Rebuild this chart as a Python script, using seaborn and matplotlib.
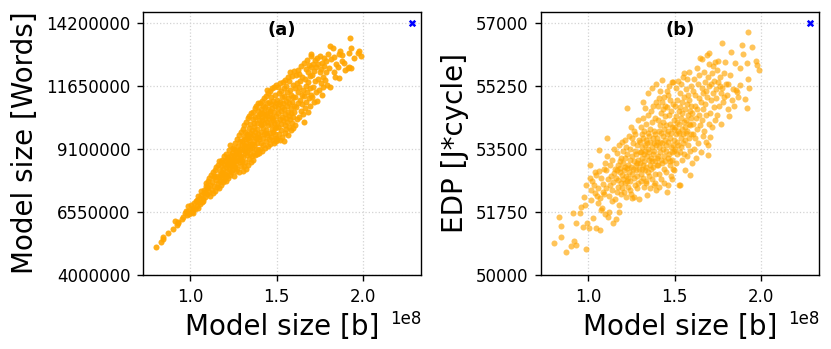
import matplotlib
matplotlib.use("Agg")
import matplotlib.pyplot as plt
import numpy as np
import pandas as pd
import seaborn as sns

# Sampled design points. model_size in units of 1e8 b, words in millions of words,
# edp in J*cycle. The same samples are shown in both panels.
model_size = [
    0.801, 0.832, 0.845, 0.874, 0.843,
    0.903, 0.913, 0.932, 0.951, 0.971, 0.990, 0.986, 0.960, 0.975, 0.995, 0.980, 0.922, 0.929,
    1.006, 1.019, 1.029, 1.038, 1.048, 1.069, 1.015, 1.082, 1.072, 1.009,
    1.063, 1.025, 1.041, 1.055, 1.060, 1.078, 1.085, 1.091, 1.096, 1.033,
    1.046, 1.066, 1.088, 1.099, 1.012, 1.052, 1.075, 1.094,
    1.102, 1.105, 1.108, 1.111, 1.115, 1.118, 1.121, 1.124, 1.127, 1.130,
    1.133, 1.136, 1.139, 1.142, 1.145, 1.148, 1.151, 1.154, 1.157, 1.159,
    1.162, 1.165, 1.168, 1.171, 1.174, 1.176, 1.178, 1.178, 1.181, 1.183,
    1.186, 1.188, 1.190, 1.192, 1.194, 1.196, 1.198, 1.185, 1.170, 1.140,
    1.201, 1.203, 1.205, 1.207, 1.209, 1.211, 1.213, 1.215, 1.217, 1.219,
    1.221, 1.223, 1.226, 1.228, 1.230, 1.232, 1.234, 1.236, 1.238, 1.240,
    1.242, 1.244, 1.246, 1.248, 1.250, 1.252, 1.255, 1.257, 1.259, 1.261,
    1.264, 1.266, 1.268, 1.270, 1.272, 1.274, 1.276, 1.278, 1.280, 1.282,
    1.284, 1.286, 1.288, 1.290, 1.293, 1.295, 1.297, 1.299, 1.212, 1.245,
    1.263, 1.281, 1.227, 1.291, 1.253,
    1.301, 1.302, 1.304, 1.305, 1.307, 1.308, 1.310, 1.311, 1.313, 1.314,
    1.316, 1.317, 1.319, 1.320, 1.322, 1.323, 1.325, 1.326, 1.328, 1.329,
    1.331, 1.332, 1.334, 1.335, 1.337, 1.338, 1.340, 1.341, 1.343, 1.344,
    1.346, 1.347, 1.349, 1.350, 1.352, 1.353, 1.355, 1.356, 1.358, 1.360,
    1.361, 1.363, 1.364, 1.366, 1.367, 1.369, 1.370, 1.372, 1.373, 1.375,
    1.376, 1.378, 1.379, 1.381, 1.382, 1.384, 1.385, 1.387, 1.388, 1.390,
    1.391, 1.393, 1.394, 1.396, 1.397, 1.399, 1.318, 1.345, 1.368, 1.392,
    1.333, 1.386,
    1.401, 1.402, 1.404, 1.405, 1.407, 1.408, 1.410, 1.411, 1.413, 1.414,
    1.416, 1.417, 1.419, 1.420, 1.422, 1.423, 1.425, 1.427, 1.428, 1.430,
    1.431, 1.433, 1.434, 1.436, 1.437, 1.439, 1.440, 1.442, 1.443, 1.445,
    1.446, 1.448, 1.449, 1.451, 1.452, 1.454, 1.456, 1.457, 1.459, 1.460,
    1.462, 1.463, 1.465, 1.466, 1.468, 1.469, 1.471, 1.472, 1.474, 1.475,
    1.477, 1.478, 1.480, 1.481, 1.483, 1.484, 1.486, 1.487, 1.489, 1.490,
    1.492, 1.494, 1.495, 1.497, 1.498, 1.499, 1.412, 1.438, 1.461, 1.488,
    1.418, 1.447, 1.473, 1.496,
    1.501, 1.503, 1.504, 1.506, 1.507, 1.509, 1.510, 1.512, 1.514, 1.515,
    1.517, 1.518, 1.520, 1.521, 1.523, 1.524, 1.526, 1.528, 1.529, 1.531,
    1.532, 1.534, 1.535, 1.537, 1.538, 1.540, 1.542, 1.543, 1.545, 1.546,
    1.548, 1.549, 1.551, 1.552, 1.554, 1.556, 1.557, 1.559, 1.560, 1.562,
    1.563, 1.565, 1.566, 1.568, 1.570, 1.571, 1.573, 1.574, 1.576, 1.577,
    1.579, 1.581, 1.582, 1.584, 1.585, 1.587, 1.588, 1.590, 1.592, 1.593,
    1.595, 1.597, 1.598, 1.599,
    1.602, 1.604, 1.607, 1.609, 1.611, 1.614, 1.616, 1.618, 1.621, 1.623,
    1.625, 1.628, 1.630, 1.632, 1.635, 1.637, 1.639, 1.642, 1.644, 1.647,
    1.649, 1.651, 1.654, 1.656, 1.657, 1.660, 1.662, 1.665, 1.667, 1.670,
    1.672, 1.675, 1.677, 1.679, 1.682, 1.684, 1.686, 1.689, 1.691, 1.693,
    1.695, 1.697, 1.698, 1.699,
    1.701, 1.703, 1.706, 1.709, 1.712, 1.715, 1.718, 1.721, 1.724, 1.727,
    1.730, 1.733, 1.736, 1.739, 1.742, 1.745, 1.748, 1.751, 1.754, 1.757,
    1.760, 1.763, 1.766, 1.769, 1.772, 1.774, 1.778, 1.783, 1.788, 1.791,
    1.795,
    1.803, 1.809, 1.811, 1.817, 1.823, 1.829, 1.832, 1.838, 1.845, 1.852,
    1.858, 1.861, 1.867, 1.877, 1.880, 1.887, 1.897,
    1.910, 1.916, 1.919, 1.923, 1.927, 1.929, 1.950, 1.973, 1.977, 1.987,
]

words = [
    5.13, 5.34, 5.52, 5.70, 5.45,
    5.84, 6.19, 6.15, 6.24, 6.49, 6.59, 6.78, 6.35, 6.60, 6.45, 6.40, 6.02, 6.08,
    6.82, 6.49, 6.65, 7.03, 7.19, 6.95, 6.70, 7.30, 7.05, 6.55,
    7.40, 6.90, 6.78, 7.10, 6.88, 7.45, 7.15, 7.60, 7.25, 6.98,
    6.70, 7.22, 7.35, 7.50, 6.62, 6.95, 7.00, 7.70,
    7.55, 7.80, 7.35, 7.90, 7.20, 7.65, 8.05, 7.45, 7.75, 8.15,
    7.30, 7.95, 7.60, 8.25, 7.40, 7.85, 8.35, 7.55, 8.00, 7.70,
    8.45, 7.95, 7.50, 8.20, 7.80, 8.55, 7.65, 8.10, 8.40, 7.90,
    8.65, 7.75, 8.30, 8.05, 8.80, 7.85, 8.50, 8.15, 8.60, 8.00,
    8.10, 8.60, 7.80, 8.35, 8.90, 8.00, 8.50, 8.20, 8.75, 7.90,
    8.45, 9.05, 8.30, 8.65, 8.05, 9.25, 8.55, 8.15, 8.85, 8.40,
    8.95, 8.25, 8.70, 9.15, 8.45, 8.00, 8.80, 8.35, 9.35, 8.60,
    8.20, 9.00, 8.50, 9.50, 8.75, 8.30, 9.20, 8.65, 9.65, 8.90,
    8.15, 9.40, 8.55, 9.10, 8.80, 9.80, 8.40, 9.25, 8.70, 8.60,
    8.90, 9.00, 8.45, 8.70, 9.10,
    8.60, 9.40, 8.20, 9.90, 9.05, 8.75, 9.60, 8.40, 9.25, 10.05,
    8.95, 9.50, 8.55, 9.80, 9.15, 8.30, 10.20, 9.35, 8.85, 9.70,
    9.00, 10.35, 8.45, 9.55, 9.20, 9.95, 8.70, 9.45, 10.45, 8.90,
    9.75, 9.10, 10.10, 8.55, 9.60, 10.55, 9.30, 8.80, 9.85, 9.15,
    10.30, 8.65, 9.65, 10.60, 9.40, 8.95, 10.00, 9.25, 10.75, 8.85,
    9.80, 10.40, 9.10, 9.55, 10.85, 8.90, 10.15, 9.35, 9.90, 10.65,
    9.05, 9.70, 10.95, 9.50, 10.25, 8.95, 9.00, 9.30, 10.15, 10.45,
    9.65, 9.60,
    9.60, 10.50, 9.10, 10.95, 10.05, 9.35, 10.70, 9.80, 10.25, 9.00,
    11.05, 10.40, 9.55, 10.85, 9.95, 9.25, 10.60, 10.15, 9.70, 11.15,
    10.35, 9.15, 10.80, 9.85, 10.50, 11.25, 9.40, 10.20, 10.95, 9.65,
    10.45, 9.20, 11.35, 10.05, 10.70, 9.50, 11.00, 10.30, 9.75, 11.45,
    10.55, 9.30, 10.90, 10.10, 9.60, 11.20, 10.35, 9.90, 11.55, 10.75,
    9.45, 10.25, 11.05, 9.80, 10.60, 11.60, 9.35, 10.15, 10.85, 9.70,
    11.30, 10.45, 9.55, 10.95, 10.00, 11.70, 10.10, 9.75, 10.65, 9.95,
    10.55, 11.50, 10.40, 9.40,
    10.20, 11.10, 9.50, 10.75, 11.60, 10.00, 10.55, 11.35, 9.70, 10.90,
    10.30, 11.75, 9.45, 11.00, 10.65, 10.10, 11.45, 9.85, 10.80, 11.20,
    10.40, 9.60, 11.80, 10.95, 10.25, 11.55, 9.40, 10.70, 11.25, 10.05,
    11.90, 10.50, 9.75, 11.05, 10.35, 11.65, 9.90, 10.85, 11.40, 10.20,
    12.00, 10.60, 9.65, 11.15, 10.45, 11.85, 10.00, 10.95, 11.50, 10.30,
    12.20, 10.75, 9.85, 11.30, 10.55, 12.05, 10.15, 11.00, 11.70, 10.40,
    11.20, 9.95, 12.25, 10.85,
    10.60, 11.55, 10.05, 11.20, 12.10, 10.80, 11.75, 10.30, 11.40, 12.30,
    10.95, 11.60, 10.40, 12.15, 11.10, 11.85, 10.65, 12.45, 11.30, 10.90,
    12.00, 11.50, 10.50, 10.20, 12.60, 11.25, 11.95, 10.75, 12.35, 11.65,
    11.00, 12.70, 11.40, 10.60, 12.20, 11.80, 11.15, 12.50, 10.85, 12.05,
    11.55, 12.85, 11.30, 12.40,
    12.93, 11.20, 12.10, 11.60, 12.55, 11.00, 12.25, 11.85, 12.70, 11.40,
    12.40, 11.05, 12.77, 11.95, 12.55, 11.50, 12.20, 12.85, 11.75, 12.35,
    11.30, 12.60, 12.00, 11.60, 12.45, 12.79, 11.90, 12.65, 12.20, 11.70,
    12.95,
    12.36, 13.28, 11.62, 12.75, 13.17, 12.20, 12.81, 12.00, 12.55, 12.43,
    12.95, 11.98, 13.08, 12.65, 12.90, 12.57, 12.30,
    12.36, 12.43, 12.97, 13.60, 12.36, 13.17, 12.80, 13.00, 13.07, 12.87,
]

edp = [
    50890, 51613, 51354, 50631, 51050,
    50798, 51724, 50818, 51724, 51318, 50706, 52494, 51891, 52150, 51429, 51950, 50946, 51446,
    51290, 52077, 51585, 52264, 51290, 51243, 52355, 51847, 52125, 53051,
    53468, 52600, 52850, 52420, 51980, 52700, 52300, 52950, 51700, 52500,
    52780, 52880, 52520, 53100, 52700, 52200, 51800, 52250,
    52400, 52900, 53300, 53793, 51613, 52650, 51752, 52200, 52480, 53050,
    52750, 52350, 53200, 52580, 51446, 52820, 53500, 52100, 52950, 51541,
    52700, 53380, 52300, 52640, 53050, 52450, 51938, 51752, 53600, 52850,
    52980, 52250, 53250, 52550, 53700, 52780, 52400, 53150, 52900, 52050,
    52650, 53100, 53450, 52300, 52900, 53750, 52550, 53250, 52750, 52150,
    53550, 52980, 54627, 53350, 52700, 53050, 52450, 53850, 52850, 53200,
    52600, 53500, 52250, 53000, 54100, 52800, 52125, 53300, 52950, 53650,
    52170, 53150, 52700, 53450, 52500, 53900, 53050, 52900, 53350, 52400,
    53600, 52750, 54300, 53200, 52097, 53750, 52950, 53400, 53000, 52350,
    54000, 53100, 52600, 52550, 53800,
    53100, 53700, 52800, 53400, 54100, 52600, 53250, 53900, 52950, 53550,
    54350, 53050, 52700, 53800, 53350, 52450, 54000, 53150, 53600, 52900,
    54627, 53450, 53000, 53750, 52550, 54200, 53300, 52216, 53650, 53950,
    52850, 53500, 54450, 53200, 52750, 53850, 53400, 54050, 53050, 52403,
    53700, 53250, 54550, 52950, 53550, 53150, 54250, 52650, 53800, 53350,
    54700, 53000, 53650, 52500, 54000, 53450, 53150, 54350, 52800, 53900,
    53600, 52350, 54800, 53250, 53700, 53050, 54800, 55050, 55200, 55300,
    52600, 52550,
    53800, 54300, 53300, 54700, 53050, 54000, 53550, 54900, 52800, 53700,
    54150, 53400, 54500, 53200, 53950, 52650, 54800, 55414, 53650, 53100,
    54250, 53850, 53500, 54600, 52950, 54050, 53300, 54950, 53750, 53150,
    54400, 53600, 52850, 54150, 53450, 55100, 52308, 53900, 54650, 53250,
    54000, 52500, 53700, 55250, 53350, 54450, 53050, 54850, 53800, 54200,
    53550, 52750, 54550, 53950, 55350, 53400, 54100, 53200, 54750, 53600,
    52950, 55367, 54300, 53750, 54050, 53450, 52450, 52550, 55000, 52650,
    55100, 54700, 53150, 52900,
    54100, 53500, 54700, 53900, 54400, 53100, 55200, 53700, 54250, 54850,
    53350, 54000, 55400, 53600, 52495, 54550, 53950, 54200, 55050, 53400,
    52494, 54650, 53800, 54350, 55300, 53550, 54050, 54800, 53200, 54500,
    53900, 55500, 53650, 55600, 54250, 53350, 54950, 54100, 52900, 54600,
    53750, 55150, 54300, 53950, 54750, 53300, 55450, 54000, 54450, 53600,
    55000, 54200, 53800, 54850, 55650, 54150, 53450, 52775, 54550, 55250,
    53900, 54700, 54350, 53100,
    54500, 53900, 55100, 54200, 53500, 55450, 54700, 53800, 55000, 54350,
    53250, 55750, 54600, 54050, 55300, 53650, 54900, 54450, 55550, 56018,
    54150, 53400, 54800, 55200, 55990, 54300, 53850, 55050, 54600, 55650,
    54000, 55350, 54750, 53700, 55100, 54450, 56110, 54950, 53330, 55500,
    53600, 55250, 54200, 55850,
    56157, 54500, 53838, 55300, 54850, 55600, 54100, 55050, 55800, 54650,
    55400, 55924, 54300, 55150, 54900, 55700, 54450, 55350, 55950, 54700,
    55250, 55500, 54200, 55050, 56435, 55200, 54800, 55600, 54950, 55924,
    55300,
    55000, 54600, 55300, 54400, 55554, 56185, 54850, 55150, 54700, 55879,
    55136, 55090, 54950, 55275, 55740, 56388, 56129,
    54878, 55879, 54627, 56758, 55450, 55200, 56341, 55943, 55832, 55700,
]

# reference (ideal) point drawn as blue cross
ideal_size = 2.28
ideal_words = 14.2
ideal_edp = 57000

words_ticks = [4000000, 6550000, 9100000, 11650000, 14200000]
edp_ticks = [50000, 51750, 53500, 55250, 57000]


def main():
    df = pd.DataFrame({
        "size": np.array(model_size) * 1e8,
        "words": np.array(words) * 1e6,
        "edp": np.array(edp, dtype=float),
    })

    fig, axes = plt.subplots(1, 2, figsize=(8.31, 3.49), dpi=100)
    fig.subplots_adjust(left=0.1725, right=0.9856, bottom=0.213, top=0.9665, wspace=0.4326)

    panels = [
        ("words", words_ticks, ideal_words * 1e6, "Model size [Words]", "(a)", 0.9, 14660000),
        ("edp", edp_ticks, ideal_edp, "EDP [J*cycle]", "(b)", 0.65, 57314),
    ]
    for ax, (col, ticks, ideal, ylabel, tag, alpha, ytop) in zip(axes, panels):
        sns.scatterplot(data=df, x="size", y=col, ax=ax, color="orange",
                        alpha=alpha, s=19, linewidth=0, zorder=2)
        ax.scatter([ideal_size * 1e8], [ideal], marker="x", color="blue",
                   s=16, linewidths=1.8, zorder=3)

        ax.set_xlim(0.73e8, 2.335e8)
        ax.set_ylim(ticks[0], ytop)
        ax.set_yticks(ticks)
        ax.set_yticklabels([str(t) for t in ticks])
        ax.grid(True, linestyle=":", color="lightgray", linewidth=0.9)
        ax.set_axisbelow(True)
        for spine in ax.spines.values():
            spine.set_linewidth(1.0)

        ax.set_xlabel("Model size [b]", fontsize=20, labelpad=5)
        ax.set_ylabel(ylabel, fontsize=20, labelpad=5)
        ax.tick_params(labelsize=12, length=4.3, width=1.0, pad=5)
        ax.xaxis.get_offset_text().set_fontsize(12)
        ax.text(0.5, 0.93, tag, transform=ax.transAxes, ha="center", va="center",
                fontweight="bold", fontsize=13)

    plt.savefig("out.png", dpi=100)
    plt.close()


if __name__ == "__main__":
    main()
